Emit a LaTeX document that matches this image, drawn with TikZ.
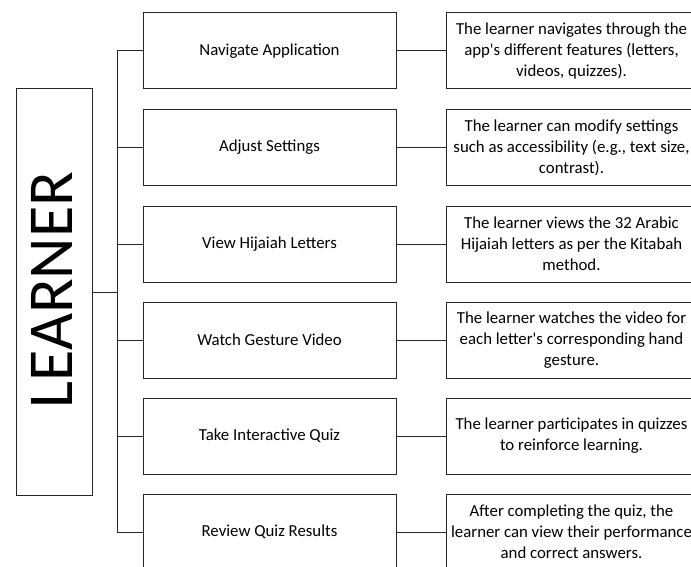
\documentclass[tikz,border=0pt]{standalone}
\usepackage{fontspec}
\setmainfont{Carlito}[Ligatures=TeXOff]
\begin{document}
\begin{tikzpicture}[x=1pt,y=-1pt,
  box/.style={draw=black!85,line width=1pt,fill=white,inner sep=0pt},
  midbox/.style={box,minimum width=253pt,minimum height=76pt,font=\fontsize{16.8}{21}\selectfont},
  descbox/.style={box,minimum width=251pt,minimum height=76pt,align=center,font=\fontsize{16.8}{21}\selectfont},
  wire/.style={draw=black!85,line width=1pt}]
\useasboundingbox (0,0) rectangle (691,567);
\clip (0,0) rectangle (691,567);
\node[box,minimum width=76pt,minimum height=406pt] (L) at (54,292) {};
\node[rotate=90,font=\fontsize{64}{64}\selectfont] (Lt) at (52,290) {LEARNER};
\coordinate (t) at (117,292);
\foreach \i/\y/\a/\b in {
  1/51/Navigate Application/{The learner navigates through the\\app's different features (letters,\\videos, quizzes).},
  2/147.5/Adjust Settings/{The learner can modify settings\\such as accessibility (e.g., text size,\\contrast).},
  3/244/View Hijaiah Letters/{The learner views the 32 Arabic\\Hijaiah letters as per the Kitabah\\method.},
  4/340/Watch Gesture Video/{The learner watches the video for\\each letter's corresponding hand\\gesture.},
  5/436/Take Interactive Quiz/{The learner participates in quizzes\\to reinforce learning.},
  6/532/Review Quiz Results/{After completing the quiz, the\\learner can view their performance\\and correct answers.}}{
  \node[midbox] (m\i) at (269.5,\y) {\a};
  \node[descbox] (r\i) at (571.5,\y) {\b};
  \draw[wire] (m\i.east) -- (r\i.west);
  \draw[wire] (m\i.west -| t) -- (m\i.west);
}
\draw[wire] (m1.west -| t) -- (m6.west -| t);
\draw[wire] (L.east) -- (t);
\end{tikzpicture}
\end{document}
